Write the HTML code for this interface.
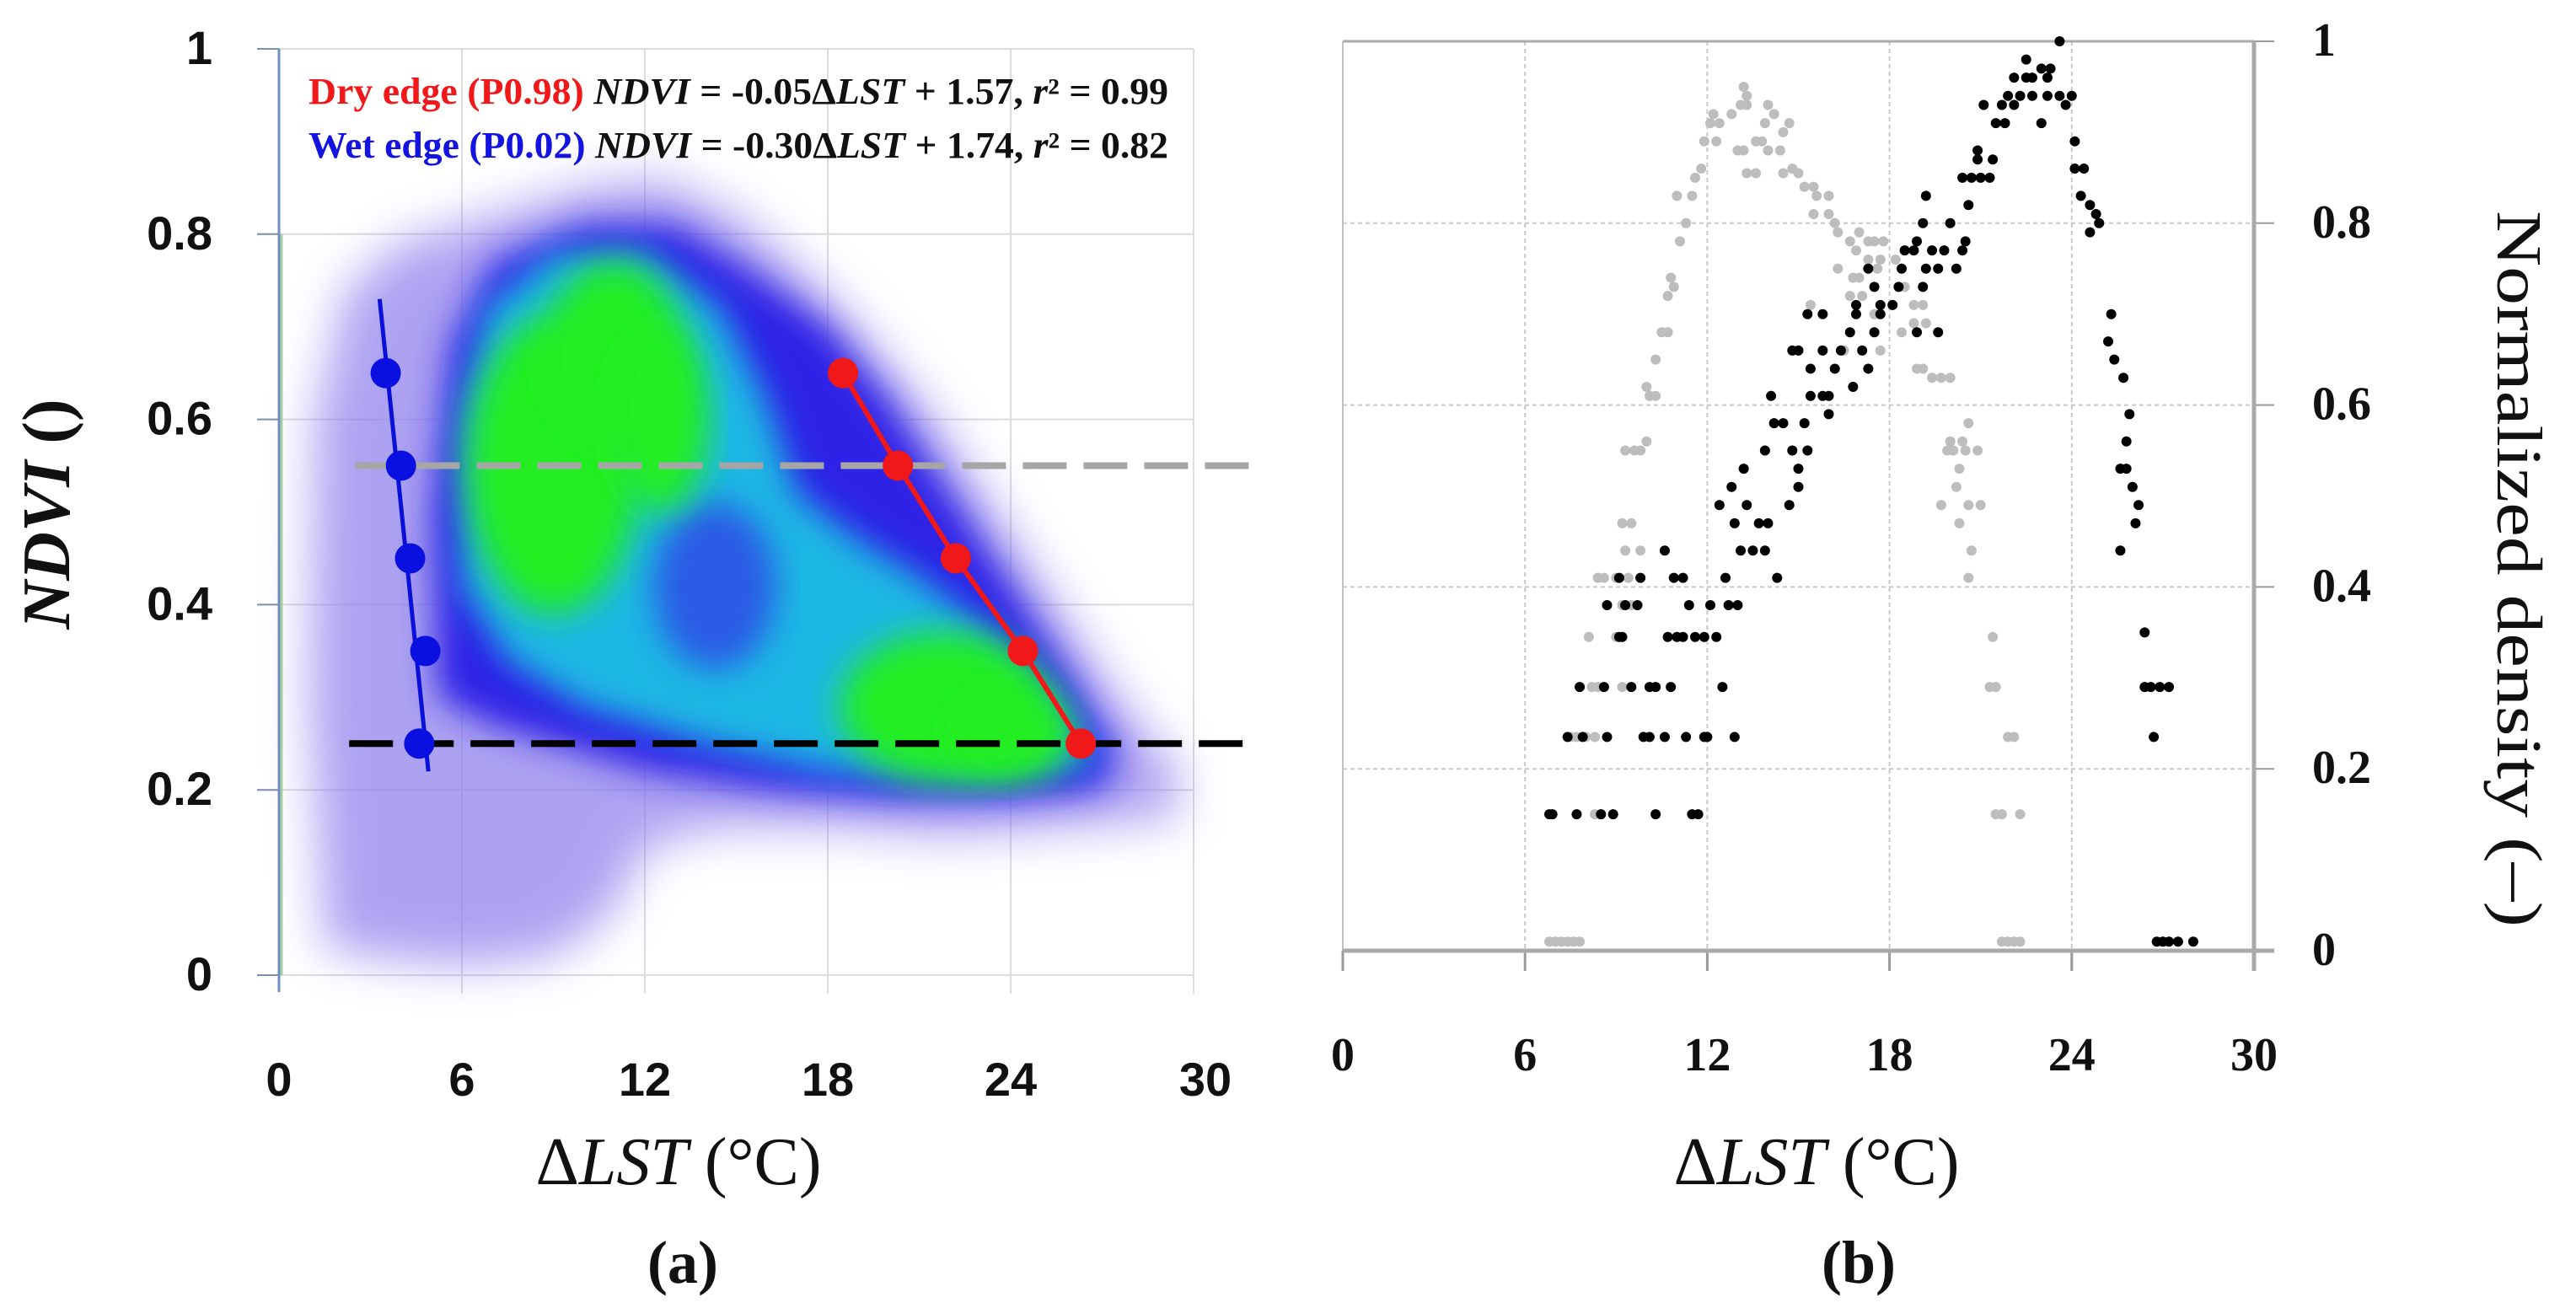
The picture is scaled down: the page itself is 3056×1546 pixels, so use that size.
<!DOCTYPE html>
<html><head><meta charset="utf-8"><style>
html,body{margin:0;padding:0;background:#fff;}
svg{display:block;}
</style></head><body>
<svg id="fig" width="3056" height="1546" viewBox="0 0 3056 1546" xmlns="http://www.w3.org/2000/svg">
<defs>
<filter id="soft" x="-20%" y="-20%" width="140%" height="140%"><feGaussianBlur stdDeviation="20"/></filter>
<filter id="soft2" x="-20%" y="-20%" width="140%" height="140%"><feGaussianBlur stdDeviation="28"/></filter>
</defs>
<g id="panelA"></g>
<g id="panelB"></g>
</svg>
<script>
// ---------- Panel (a) data ----------
const aXTicks = [0, 6, 12, 18, 24, 30];
const aYTicks = [0, 0.2, 0.4, 0.6, 0.8, 1];
const aYTickLabels = ["0", "0.2", "0.4", "0.6", "0.8", "1"];
const dryX = [18.5, 20.3, 22.2, 24.4, 26.3];
const dryY = [0.65, 0.55, 0.45, 0.35, 0.25];
const wetX = [3.5, 4.0, 4.3, 4.8, 4.6];
const wetY = [0.65, 0.55, 0.45, 0.35, 0.25];
const wetLineX = [3.3, 4.9];
const wetLineY = [0.73, 0.22];
const grayDashY = 0.55;
const grayDashX = [2.5, 32.2];
const blackDashY = 0.25;
const blackDashX = [2.3, 31.9];
const cloudOuter = [[1.5,0.03],[1.0,0.3],[1.2,0.6],[2.2,0.74],[4,0.79],[7,0.82],[10,0.85],[12.5,0.86],[15,0.82],[17.5,0.75],[19.5,0.68],[21.5,0.6],[23.5,0.5],[25.5,0.4],[27.5,0.3],[29.5,0.22],[29.5,0.17],[26,0.16],[22,0.15],[18,0.16],[14.5,0.16],[12,0.14],[11,0.07],[9,0.02],[6,0.01],[3,0.02]];
const cloudBody = [[5.2,0.3],[5,0.5],[5.6,0.68],[7,0.77],[10,0.81],[13,0.81],[15.5,0.76],[18,0.7],[20,0.62],[22,0.52],[24,0.42],[26,0.32],[27.5,0.24],[27,0.2],[24,0.19],[20,0.19],[16,0.2],[12,0.22],[9,0.25],[7,0.27]];
const cloudCyan = [[6,0.42],[6,0.6],[6.8,0.72],[9,0.78],[12,0.78],[14.5,0.72],[16,0.62],[17,0.52],[19,0.47],[21,0.43],[23,0.38],[25.5,0.3],[26.8,0.23],[23,0.21],[18,0.22],[14,0.25],[10,0.29],[7.5,0.34]];
const greenBlobs = [[9,0.55,2.8,0.16],[11,0.67,2.3,0.1],[12.5,0.6,1.6,0.1],[21.8,0.29,3.4,0.08],[24,0.26,2.0,0.05]];
const blueHoles = [[14.3,0.42,2.0,0.09]];

// ---------- Panel (b) data ----------
const bXTicks = [0, 6, 12, 18, 24, 30];
const bYTicks = [0, 0.2, 0.4, 0.6, 0.8, 1];
const bYTickLabels = ["0", "0.2", "0.4", "0.6", "0.8", "1"];
const blackX = [6.8,6.9,7.7,8.5,8.9,10.3,11.5,11.7, 7.4,7.9,8.7,9.9,10.1,10.6,11.3,11.9,12.0,12.9, 7.8,8.6,9.5,10.1,10.3,10.8,12.5, 9.1,9.2,10.7,11.0,11.2,11.6,11.9,12.3, 8.7,9.3,9.7,11.4,12.1,12.7,13.0, 9.1,9.8,10.9,11.2,12.6,14.3, 10.6,13.1,13.5,13.9, 12.9,13.7,14.0, 12.4,13.3,14.7, 12.8,15.0, 13.2,15.0, 13.9,14.8,15.3, 14.2,14.5,15.2, 14.1,15.4,15.8,16.0, 16.8,16.0, 15.4,16.2,17.3, 14.8,15.0,15.8,16.4,17.1, 16.7,17.5,18.9,19.6, 15.3,15.8,16.9,17.7, 16.9,17.7,18.1, 17.5,18.3,19.1, 17.3,18.4,19.2,19.6,20.2, 18.5,18.8,19.4,19.8,20.4, 18.9,20.5, 19.1,20.0, 20.6,19.2, 20.4,20.7,21.0,21.3, 20.9,21.4,20.9, 21.5,21.8, 21.1,21.7,22.1,23.8, 21.9,22.3,22.7,23.2,23.6,24.0, 22.1,22.5,22.7,23.2, 23.0,23.3, 22.5,23.6,23.0, 24.1,24.1,24.4,24.3,24.6,24.8,24.9,24.6,25.3,25.2,25.4,25.7,25.9,25.8,25.6,25.8,26.0,26.2,26.1,25.6,26.4,26.4,26.6,26.9,27.2,26.7,26.8,27.0,27.2,27.5,28.0];
const blackY = [0.15,0.15,0.15,0.15,0.15,0.15,0.15,0.15, 0.235,0.235,0.235,0.235,0.235,0.235,0.235,0.235,0.235,0.235, 0.29,0.29,0.29,0.29,0.29,0.29,0.29, 0.345,0.345,0.345,0.345,0.345,0.345,0.345,0.345, 0.38,0.38,0.38,0.38,0.38,0.38,0.38, 0.41,0.41,0.41,0.41,0.41,0.41, 0.44,0.44,0.44,0.44, 0.47,0.47,0.47, 0.49,0.49,0.49, 0.51,0.51, 0.53,0.53, 0.55,0.55,0.55, 0.58,0.58,0.58, 0.61,0.61,0.61,0.61, 0.62,0.59, 0.64,0.64,0.64, 0.66,0.66,0.66,0.66,0.66, 0.68,0.68,0.68,0.68, 0.70,0.70,0.70,0.70, 0.71,0.71,0.71, 0.73,0.73,0.73, 0.75,0.75,0.75,0.75,0.75, 0.77,0.77,0.77,0.77,0.77, 0.78,0.78, 0.80,0.80, 0.82,0.83, 0.85,0.85,0.85,0.85, 0.87,0.87,0.88, 0.91,0.91, 0.93,0.93,0.93,0.93, 0.94,0.94,0.94,0.94,0.94,0.94, 0.96,0.96,0.96,0.96, 0.97,0.97, 0.98,1.0,0.91, 0.89,0.86,0.86,0.83,0.82,0.81,0.80,0.79,0.70,0.67,0.65,0.63,0.59,0.56,0.53,0.53,0.51,0.49,0.47,0.44,0.35,0.29,0.29,0.29,0.29,0.235,0.01,0.01,0.01,0.01,0.01];
const grayX = [6.8,7.0,7.2,7.4,7.6,7.8,21.7,21.9,22.1,22.3, 6.9,8.3,8.5,21.5,21.7,22.3, 7.5,7.7,8.0,8.3,21.9,22.1, 8.2,8.4,8.6,9.2,21.3,21.5, 8.1,9.0,21.4, 9.2,9.5, 8.4,8.6,9.0,9.4, 9.3,9.8, 9.2,9.5, 20.6,20.7,20.3,19.7,20.6,21.0,20.2,20.3,19.9,20.1,20.5,20.9,20.0,20.4,20.6, 9.3,9.6,9.8,10.0, 10.1,10.3,10.0, 10.3,10.5,10.7, 10.7,10.9,10.8, 11.1,11.3,11.0,11.5,11.6,11.8, 11.9,12.3,12.1,12.4,12.2,12.8,13.1,13.3,13.3,13.2, 13.0,13.2,14.0,14.4,13.6,13.8,14.5,13.9,14.7,14.2,14.0, 13.3,13.6,14.5,15.0,14.8,15.2,15.5,15.6,16.0, 15.5,16.0,16.2,16.3,17.0,16.7,17.3,17.5,17.8,16.9,17.3,17.7,18.2,16.3,17.6,16.8,17.0,18.5,16.7,17.1,15.4,18.8,19.1,17.5,18.8,19.2,18.4,16.5,17.7,18.9,19.1,19.4,19.7,20.0];
const grayY = [0.01,0.01,0.01,0.01,0.01,0.01,0.01,0.01,0.01,0.01, 0.15,0.15,0.15,0.15,0.15,0.15, 0.235,0.235,0.235,0.235,0.235,0.235, 0.29,0.29,0.29,0.29,0.29,0.29, 0.345,0.345,0.345, 0.38,0.38, 0.41,0.41,0.41,0.41, 0.44,0.44, 0.47,0.47, 0.41,0.44,0.47,0.49,0.49,0.49,0.51,0.53,0.55,0.55,0.55,0.55,0.56,0.56,0.58, 0.55,0.55,0.55,0.56, 0.61,0.61,0.62, 0.65,0.68,0.68, 0.72,0.73,0.74, 0.78,0.80,0.83,0.83,0.85,0.86, 0.89,0.89,0.91,0.91,0.92,0.92,0.93,0.93,0.94,0.95, 0.88,0.88,0.88,0.88,0.89,0.89,0.90,0.91,0.91,0.92,0.93, 0.855,0.855,0.855,0.855,0.86,0.84,0.84,0.83,0.83, 0.81,0.81,0.80,0.79,0.79,0.78,0.78,0.78,0.78,0.77,0.76,0.76,0.76,0.75,0.75,0.74,0.74,0.73,0.72,0.72,0.71,0.71,0.71,0.70,0.69,0.69,0.68,0.66,0.66,0.64,0.64,0.63,0.63,0.63];

const NS = "http://www.w3.org/2000/svg";
function mk(tag, attrs, parent, txt){
  const e = document.createElementNS(NS, tag);
  for (const k in attrs) e.setAttribute(k, attrs[k]);
  if (txt !== undefined) e.textContent = txt;
  parent.appendChild(e);
  return e;
}
// ---------- Panel A ----------
const A = document.getElementById('panelA');
const ax0 = 331, ax1 = 1416, ay0 = 1157, ay1 = 58;
const aX = v => ax0 + (v - 0) / 30 * (ax1 - ax0);
const aY = v => ay0 - v * (ay0 - ay1);
const ptsA = arr => arr.map(p => aX(p[0]).toFixed(1) + ',' + aY(p[1]).toFixed(1)).join(' ');

aXTicks.forEach(t => {
  if (t === 0) return;
  const g = mk('line', {x1:aX(t), x2:aX(t), y1:aY(1), y2:aY(0)+22, stroke:'#dcdcdc', 'stroke-width':2}, A);
  
  
});
aYTicks.forEach(t => {
  const g = mk('line', {x1:aX(0)-26, x2:aX(30), y1:aY(t), y2:aY(t), stroke:'#dcdcdc', 'stroke-width':2}, A);
  
  
  const tk = mk('line', {x1:aX(0)-26, x2:aX(0), y1:aY(t), y2:aY(t), stroke:'#7f8fb0', 'stroke-width':2}, A);
  
  
});

const cg = mk('g', {}, A);


const c1 = mk('polygon', {points:ptsA(cloudOuter), fill:'#8a7cec', filter:'url(#soft2)', opacity:0.7}, cg);


const c2 = mk('polygon', {points:ptsA(cloudBody), fill:'#2d22e6', filter:'url(#soft)'}, cg);


const c3 = mk('polygon', {points:ptsA(cloudCyan), fill:'#1ab8e4', filter:'url(#soft)'}, cg);


blueHoles.forEach(b => {
  const e = mk('ellipse', {cx:aX(b[0]), cy:aY(b[1]), rx:aX(b[2])-aX(0), ry:aY(0)-aY(b[3]), fill:'#2a5ae6', filter:'url(#soft)'}, cg);
  
  
});
greenBlobs.forEach(b => {
  const e = mk('ellipse', {cx:aX(b[0]), cy:aY(b[1]), rx:aX(b[2])-aX(0), ry:aY(0)-aY(b[3]), fill:'#22ee22', filter:'url(#soft)'}, cg);
  
  
});

const yax = mk('line', {x1:aX(0), x2:aX(0), y1:aY(1), y2:aY(0)+20, stroke:'#6f8fc0', 'stroke-width':3}, A);


const yax2 = mk('line', {x1:aX(0)+3, x2:aX(0)+3, y1:aY(0.8), y2:aY(0), stroke:'#a8d0a0', 'stroke-width':3}, A);



const gd = mk('line', {x1:aX(grayDashX[0]), x2:aX(grayDashX[1]), y1:aY(grayDashY), y2:aY(grayDashY), stroke:'#a6a6a6', 'stroke-width':8, 'stroke-dasharray':'52 20'}, A);


const bd = mk('line', {x1:aX(blackDashX[0]), x2:aX(blackDashX[1]), y1:aY(blackDashY), y2:aY(blackDashY), stroke:'#000', 'stroke-width':8, 'stroke-dasharray':'52 20'}, A);



const wl = mk('line', {x1:aX(wetLineX[0]), y1:aY(wetLineY[0]), x2:aX(wetLineX[1]), y2:aY(wetLineY[1]), stroke:'#0a10d8', 'stroke-width':5}, A);


wetX.forEach((x, i) => {
  const c = mk('circle', {cx:aX(x), cy:aY(wetY[i]), r:18, fill:'#0a10e0'}, A);
  
  
});
const dl = mk('polyline', {points:dryX.map((x,i)=>aX(x)+','+aY(dryY[i])).join(' '), fill:'none', stroke:'#f01818', 'stroke-width':6}, A);


dryX.forEach((x, i) => {
  const c = mk('circle', {cx:aX(x), cy:aY(dryY[i]), r:18, fill:'#f01818'}, A);
  
  
});

aYTicks.forEach((t, i) => {
  const tx = mk('text', {x:252, y:aY(t)+18, 'text-anchor':'end', 'font-family':'Liberation Sans, sans-serif', 'font-weight':'bold', 'font-size':56, fill:'#111'}, A, aYTickLabels[i]);
  
  
});
aXTicks.forEach(t => {
  const tx = mk('text', {x:aX(t)+ (t===30?14:0), y:1300, 'text-anchor':'middle', 'font-family':'Liberation Sans, sans-serif', 'font-weight':'bold', 'font-size':56, fill:'#111'}, A, String(t));
  
  
});

const l1 = mk('text', {x:366, y:123, 'font-family':'Liberation Serif, serif', 'font-weight':'bold', 'font-size':44, textLength:1020, lengthAdjust:'spacingAndGlyphs'}, A);


mk('tspan', {fill:'#f01818'}, l1, 'Dry edge (P0.98) ');
mk('tspan', {fill:'#111', 'font-style':'italic'}, l1, 'NDVI');
mk('tspan', {fill:'#111'}, l1, ' = -0.05Δ');
mk('tspan', {fill:'#111', 'font-style':'italic'}, l1, 'LST');
mk('tspan', {fill:'#111'}, l1, ' + 1.57, ');
mk('tspan', {fill:'#111', 'font-style':'italic'}, l1, 'r');
mk('tspan', {fill:'#111'}, l1, '² = 0.99');
const l2 = mk('text', {x:366, y:187, 'font-family':'Liberation Serif, serif', 'font-weight':'bold', 'font-size':44, textLength:1020, lengthAdjust:'spacingAndGlyphs'}, A);


mk('tspan', {fill:'#1414e0'}, l2, 'Wet edge (P0.02) ');
mk('tspan', {fill:'#111', 'font-style':'italic'}, l2, 'NDVI');
mk('tspan', {fill:'#111'}, l2, ' = -0.30Δ');
mk('tspan', {fill:'#111', 'font-style':'italic'}, l2, 'LST');
mk('tspan', {fill:'#111'}, l2, ' + 1.74, ');
mk('tspan', {fill:'#111', 'font-style':'italic'}, l2, 'r');
mk('tspan', {fill:'#111'}, l2, '² = 0.82');

const yt = mk('text', {x:0, y:0, transform:'translate(82,610) rotate(-90)', 'text-anchor':'middle', 'font-family':'Liberation Serif, serif', 'font-weight':'bold', 'font-size':80, fill:'#111'}, A);


mk('tspan', {'font-style':'italic'}, yt, 'NDVI');
mk('tspan', {}, yt, ' ()');
const xt = mk('text', {x:805, y:1405, 'text-anchor':'middle', 'font-family':'Liberation Serif, serif', 'font-size':80, fill:'#111'}, A);


mk('tspan', {}, xt, 'Δ');
mk('tspan', {'font-style':'italic'}, xt, 'LST');
mk('tspan', {}, xt, ' (°C)');
const pa = mk('text', {x:810, y:1522, 'text-anchor':'middle', 'font-family':'Liberation Serif, serif', 'font-weight':'bold', 'font-size':72, fill:'#111'}, A, '(a)');



// ---------- Panel B ----------
const B = document.getElementById('panelB');
const bx0 = 1593, bx1 = 2674, by0 = 1128, by1 = 49;
const bX = v => bx0 + v / 30 * (bx1 - bx0);
const bY = v => by0 - v * (by0 - by1);

bXTicks.forEach(t => {
  if (t !== 0 && t !== 30) {
    const g = mk('line', {x1:bX(t), x2:bX(t), y1:bY(1), y2:bY(0), stroke:'#c8c8c8', 'stroke-width':2, 'stroke-dasharray':'5 4'}, B);
    
    
  }
  const tk = mk('line', {x1:bX(t), x2:bX(t), y1:bY(0), y2:bY(0)+24, stroke:'#999', 'stroke-width':3}, B);
  
  
  const tx = mk('text', {x:bX(t), y:1270, 'text-anchor':'middle', 'font-family':'Liberation Serif, serif', 'font-weight':'bold', 'font-size':56, fill:'#111'}, B, String(t));
  
  
});
bYTicks.forEach((t, i) => {
  if (t !== 0 && t !== 1) {
    const g = mk('line', {x1:bX(0), x2:bX(30), y1:bY(t), y2:bY(t), stroke:'#c8c8c8', 'stroke-width':2, 'stroke-dasharray':'5 4'}, B);
    
    
  }
  const tk = mk('line', {x1:bX(30), x2:bX(30)+24, y1:bY(t), y2:bY(t), stroke:'#999', 'stroke-width':2}, B);
  
  
  const tx = mk('text', {x:2743, y:bY(t)+17, 'text-anchor':'start', 'font-family':'Liberation Serif, serif', 'font-weight':'bold', 'font-size':56, fill:'#111'}, B, bYTickLabels[i]);
  
  
});
const topL = mk('line', {x1:bX(0), x2:bX(30), y1:bY(1), y2:bY(1), stroke:'#aaa', 'stroke-width':3}, B);


const leftL = mk('line', {x1:bX(0), x2:bX(0), y1:bY(1), y2:bY(0), stroke:'#c0c0c0', 'stroke-width':2}, B);


const rightL = mk('line', {x1:bX(30), x2:bX(30), y1:bY(1), y2:bY(0)+24, stroke:'#aaa', 'stroke-width':5}, B);


const botL = mk('line', {x1:bX(0), x2:bX(30)+24, y1:bY(0), y2:bY(0), stroke:'#aaa', 'stroke-width':5}, B);



grayX.forEach((x, i) => {
  const c = mk('circle', {cx:bX(x), cy:bY(grayY[i]), r:6, fill:'#bdbdbd'}, B);
  
  
});
blackX.forEach((x, i) => {
  const c = mk('circle', {cx:bX(x), cy:bY(blackY[i]), r:6, fill:'#000'}, B);
  
  
});

const rt = mk('text', {x:0, y:0, transform:'translate(2963,675) rotate(90)', 'text-anchor':'middle', 'font-family':'Liberation Serif, serif', 'font-size':76, fill:'#111', textLength:850, lengthAdjust:'spacingAndGlyphs'}, B, 'Normalized density (–)');


const bxt = mk('text', {x:2155, y:1405, 'text-anchor':'middle', 'font-family':'Liberation Serif, serif', 'font-size':80, fill:'#111'}, B);


mk('tspan', {}, bxt, 'Δ');
mk('tspan', {'font-style':'italic'}, bxt, 'LST');
mk('tspan', {}, bxt, ' (°C)');
const pb = mk('text', {x:2205, y:1522, 'text-anchor':'middle', 'font-family':'Liberation Serif, serif', 'font-weight':'bold', 'font-size':72, fill:'#111'}, B, '(b)');


</script>
</body></html>
